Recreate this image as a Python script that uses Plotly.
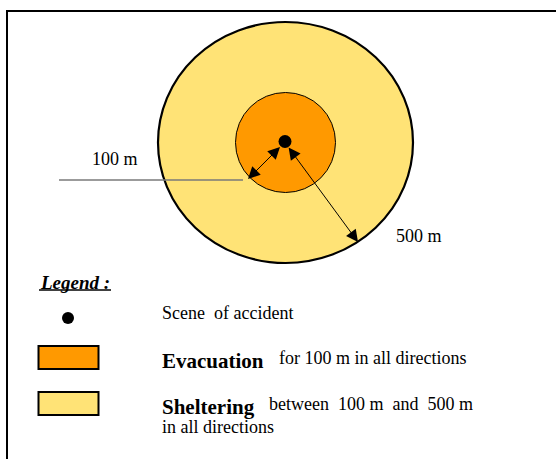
import plotly.graph_objects as go

# ---- data ----
zone_names = ["Evacuation", "Sheltering"]
zone_radii_m = [100, 500]
zone_colors = ["#FF9900", "#FFE376"]
zone_desc_line1 = ["for 100 m in all directions", "between  100 m  and  500 m"]
zone_desc_line2 = ["", "in all directions"]
distance_labels = ["100 m", "500 m"]
scene_label = "Scene  of accident"
legend_title = "Legend :"

# ---- layout constants (pixel canvas) ----
W, H = 556, 459
FONT = "Liberation Serif, Times New Roman, serif"
CX, CY = 285.5, 142.5
# drawn half-axes of each zone circle (not to scale)
draw_r = {100: (50, 50), 500: (127.5, 120.5)}
zone_line_w = {100: 1, 500: 2.2}
legend_rect_y = [346, 392]
legend_text_y = [361, 407]
desc_x = [277, 267]
desc_y = [358, 404]

fig = go.Figure()
shapes = []
annotations = []

# frame
shapes.append(dict(type="rect", xref="x", yref="y", x0=7, y0=11, x1=700, y1=700,
                   line=dict(color="black", width=2), fillcolor="rgba(0,0,0,0)", layer="below"))

# zones: draw largest first
for name, r_m, col in sorted(zip(zone_names, zone_radii_m, zone_colors), key=lambda t: -t[1]):
    rx, ry = draw_r[r_m]
    shapes.append(dict(type="circle", xref="x", yref="y",
                       x0=CX - rx, x1=CX + rx, y0=CY - ry, y1=CY + ry,
                       fillcolor=col, line=dict(color="black", width=zone_line_w[r_m]), layer="below"))

# gray leader line for 100 m
shapes.append(dict(type="line", xref="x", yref="y", x0=59, x1=243, y0=180, y1=180,
                   line=dict(color="#7a7a7a", width=1.6)))

# scene of accident dot
fig.add_trace(go.Scatter(x=[CX - 0.5], y=[CY - 1], mode="markers",
                         marker=dict(color="black", size=13), hoverinfo="skip", showlegend=False))

# radius arrows (double-headed)
arrow_tails = [(281.5, 145.5), (287.5, 146)]
arrow_heads = [(248, 179), (358, 242)]
for (tx, ty), (hx, hy) in zip(arrow_tails, arrow_heads):
    annotations.append(dict(x=hx, y=hy, ax=tx, ay=ty, xref="x", yref="y", axref="x", ayref="y",
                            text="", showarrow=True, arrowhead=2, startarrowhead=2,
                            arrowside="end+start", arrowsize=2.4, startarrowsize=2.4,
                            arrowwidth=1, arrowcolor="black"))

# distance labels
label_pos = [(90, 159), (394, 236)]
for lab, (lx, ly) in zip(distance_labels, label_pos):
    annotations.append(dict(x=lx, y=ly, xref="x", yref="y", text=lab, showarrow=False,
                            xanchor="left", yanchor="middle",
                            font=dict(family=FONT, size=18, color="black")))

# legend title
annotations.append(dict(x=38, y=282, xref="x", yref="y", text="<b><i>" + legend_title + "</i></b>",
                        showarrow=False, xanchor="left", yanchor="middle",
                        font=dict(family=FONT, size=19, color="black")))
shapes.append(dict(type="line", xref="x", yref="y", x0=39, x1=111, y0=290, y1=290,
                   line=dict(color="black", width=1.5)))

# legend: scene dot
fig.add_trace(go.Scatter(x=[68], y=[318], mode="markers",
                         marker=dict(color="black", size=12), hoverinfo="skip", showlegend=False))
annotations.append(dict(x=160, y=313, xref="x", yref="y", text=scene_label, showarrow=False,
                        xanchor="left", yanchor="middle",
                        font=dict(family=FONT, size=18, color="black")))

# legend: zones
for i, (name, col) in enumerate(zip(zone_names, zone_colors)):
    y0 = legend_rect_y[i]
    shapes.append(dict(type="rect", xref="x", yref="y", x0=38.5, x1=98.5, y0=y0, y1=y0 + 23,
                       fillcolor=col, line=dict(color="black", width=2)))
    annotations.append(dict(x=160, y=legend_text_y[i], xref="x", yref="y",
                            text="<b>" + name + "</b>", showarrow=False,
                            xanchor="left", yanchor="middle",
                            font=dict(family=FONT, size=21, color="black")))
    annotations.append(dict(x=desc_x[i], y=desc_y[i], xref="x", yref="y",
                            text=zone_desc_line1[i], showarrow=False,
                            xanchor="left", yanchor="middle",
                            font=dict(family=FONT, size=18, color="black")))
    if zone_desc_line2[i]:
        annotations.append(dict(x=160, y=legend_text_y[i] + 20, xref="x", yref="y",
                                text=zone_desc_line2[i], showarrow=False,
                                xanchor="left", yanchor="middle",
                                font=dict(family=FONT, size=18, color="black")))

fig.update_layout(
    width=W, height=H, margin=dict(l=0, r=0, t=0, b=0),
    paper_bgcolor="white", plot_bgcolor="white",
    xaxis=dict(range=[0, W], visible=False, fixedrange=True),
    yaxis=dict(range=[H, 0], visible=False, fixedrange=True),
    shapes=shapes, annotations=annotations, showlegend=False,
)

fig.write_html("out.html", config={"displayModeBar": False},
               post_script="document.body.style.margin='0px';document.body.style.overflow='hidden';")
